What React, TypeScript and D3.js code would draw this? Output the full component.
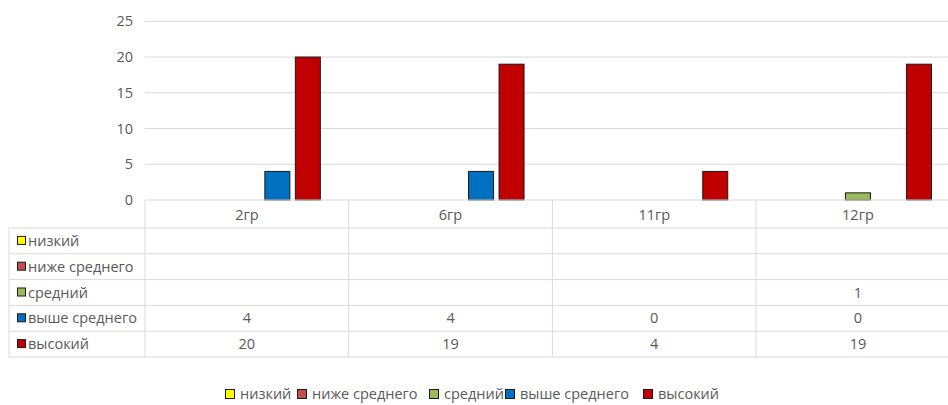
import React from "react";
import * as d3 from "d3";

const categories = ["2гр", "6гр", "11гр", "12гр"];
const seriesNames = ["низкий", "ниже среднего", "средний", "выше среднего", "высокий"];
const seriesColors = ["#FFFF00", "#C0504D", "#9BBB59", "#0070C0", "#C00000"];
const nizkiy: (number | null)[] = [null, null, null, null];
const nizheSrednego: (number | null)[] = [null, null, null, null];
const sredniy: (number | null)[] = [null, null, null, 1];
const vysheSrednego: (number | null)[] = [4, 4, 0, 0];
const vysokiy: (number | null)[] = [20, 19, 4, 19];
const seriesValues = [nizkiy, nizheSrednego, sredniy, vysheSrednego, vysokiy];
const yTicks = [0, 5, 10, 15, 20, 25];

const W = 948;
const H = 405;
const FONT = "'Open Sans', 'Noto Sans', sans-serif";
const FS = 14.5;
const TEXT = "#595959";
const GRID = "#D9D9D9";

export default function App() {
  const plotLeft = 145;
  const colW = 203.7;
  const plotRight = plotLeft + colW * categories.length;
  const y = d3.scaleLinear().domain([0, 25]).range([200, 21.3]);
  const x = d3.scaleBand().domain(categories).range([plotLeft, plotRight]).paddingInner(0).paddingOuter(0);
  const step = 30.5;
  const barW = 25;
  const headerTop = 200;
  const headerBottom = 228;
  const rowH = 25.8;
  const tableLeft = 9;
  const tableBottom = headerBottom + rowH * seriesNames.length;
  const legendStarts = [225, 297, 429, 505, 643];

  return (
    <svg width={W} height={H} style={{ position: "absolute", left: 0, top: 0, background: "#fff" }} fontFamily={FONT}>
      {yTicks.map((t) => (
        <g key={t}>
          {t > 0 && <line x1={plotLeft} x2={W} y1={y(t)} y2={y(t)} stroke={GRID} strokeWidth={1} />}
          <text x={133} y={y(t)} dy="0.35em" textAnchor="end" fontSize={FS} fill={TEXT}>{t}</text>
        </g>
      ))}
      {seriesValues.map((vals, si) =>
        vals.map((v, ci) => {
          if (v == null || v === 0) return null;
          const cx = (x(categories[ci]) as number) + x.bandwidth() / 2 + (si - 2) * step;
          return (
            <rect key={`${si}-${ci}`} x={cx - barW / 2} y={y(v)} width={barW} height={y(0) - y(v)}
              fill={seriesColors[si]} stroke="#1a1a1a" strokeWidth={1} />
          );
        })
      )}
      <line x1={plotLeft} x2={W} y1={headerTop} y2={headerTop} stroke={GRID} />
      {d3.range(seriesNames.length + 1).map((i) => (
        <line key={i} x1={tableLeft} x2={W} y1={headerBottom + i * rowH} y2={headerBottom + i * rowH} stroke={GRID} />
      ))}
      <line x1={tableLeft} x2={tableLeft} y1={headerBottom} y2={tableBottom} stroke={GRID} />
      {categories.map((c) => (
        <line key={c} x1={x(c) as number} x2={x(c) as number} y1={headerTop} y2={tableBottom} stroke={GRID} />
      ))}
      {categories.map((c) => (
        <text key={c} x={(x(c) as number) + x.bandwidth() / 2} y={(headerTop + headerBottom) / 2 + 1} dy="0.35em"
          textAnchor="middle" fontSize={FS} fill={TEXT}>{c}</text>
      ))}
      {seriesNames.map((s, si) => {
        const cy = headerBottom + si * rowH + rowH / 2;
        return (
          <g key={s}>
            <rect x={17.5} y={cy - 4.5} width={8} height={8} fill={seriesColors[si]} stroke="#1a1a1a" strokeWidth={1} />
            <text x={28} y={cy} dy="0.35em" fontSize={FS} fill={TEXT}>{s}</text>
            {seriesValues[si].map((v, ci) =>
              v == null ? null : (
                <text key={ci} x={(x(categories[ci]) as number) + x.bandwidth() / 2} y={cy} dy="0.35em"
                  textAnchor="middle" fontSize={FS} fill={TEXT}>{v}</text>
              )
            )}
          </g>
        );
      })}
      {seriesNames.map((s, si) => (
        <g key={`lg-${s}`}>
          <rect x={legendStarts[si] + 0.5} y={389.5} width={9} height={9} fill={seriesColors[si]} stroke="#1a1a1a" strokeWidth={1} />
          <text x={legendStarts[si] + 15} y={394} dy="0.35em" fontSize={FS} fill={TEXT}>{s}</text>
        </g>
      ))}
    </svg>
  );
}
